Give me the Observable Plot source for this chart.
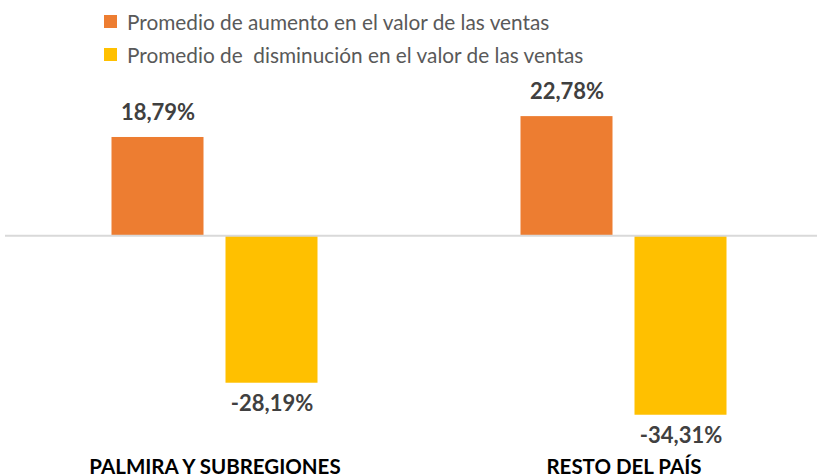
<!DOCTYPE html>
<html><head><meta charset="utf-8">
<script src="https://cdn.jsdelivr.net/npm/d3@7"></script>
<script src="https://cdn.jsdelivr.net/npm/@observablehq/plot@0.6"></script>
<style>
body{margin:0;background:#fff;font-family:Lato,sans-serif;}
#legend{position:relative;height:70px;width:817px;}
.item{position:absolute;left:104px;height:22px;display:flex;align-items:center;font-size:20.8px;color:#595959;white-space:pre;}
.sw{width:13px;height:13px;margin-right:10px;flex:none;}
</style></head><body>
<div id="legend"></div>
<div id="chart"></div>
<script>
const categories = ["PALMIRA Y SUBREGIONES", "RESTO DEL PAÍS"];
const seriesNames = ["Promedio de aumento en el valor de las ventas", "Promedio de  disminución en el valor de las ventas"];
const aumento = [18.79, 22.78];
const disminucion = [-28.19, -34.31];
const colors = ["#ED7D31", "#FFC000"];

const fmt = v => v.toFixed(2).replace(".", ",") + "%";
const dataA = categories.map((c, i) => ({cat: c, value: aumento[i]}));
const dataD = categories.map((c, i) => ({cat: c, value: disminucion[i]}));

// legend
const legend = document.getElementById("legend");
seriesNames.forEach((name, i) => {
  const item = document.createElement("div");
  item.className = "item";
  item.style.top = (10 + i * 33) + "px";
  const sw = document.createElement("span");
  sw.className = "sw";
  sw.style.background = colors[i];
  const tx = document.createElement("span");
  tx.textContent = name;
  item.appendChild(sw);
  item.appendChild(tx);
  legend.appendChild(item);
});

const labelFont = {fontSize: 22, fontWeight: "bold", fill: "#404040"};

const chart = Plot.plot({
  width: 817,
  height: 406,
  marginLeft: 5,
  marginRight: 0,
  marginTop: 34.5,
  marginBottom: 31.5,
  style: {fontFamily: "Lato, sans-serif", background: "#fff", overflow: "visible"},
  x: {type: "band", domain: categories, paddingInner: 0.3902, paddingOuter: 0.1854, align: 0.553},
  y: {domain: [-40, 25], axis: null},
  marks: [
    Plot.barY(dataA, {x: "cat", y: "value", fill: colors[0], insetLeft: 21.5, insetRight: 135.5}),
    Plot.barY(dataD, {x: "cat", y: "value", fill: colors[1], insetLeft: 135.5, insetRight: 21.5}),
    Plot.ruleY([0], {stroke: "#D9D9D9", strokeWidth: 2}),
    Plot.text(dataA, {x: "cat", y: "value", text: d => fmt(d.value), dx: -57, dy: -25, ...labelFont}),
    Plot.text(dataD, {x: "cat", y: "value", text: d => fmt(d.value), dx: 57, dy: 21, ...labelFont}),
    Plot.axisX({tickSize: 0, tickPadding: 14, fontSize: 20.5, fontWeight: "bold", fill: "#000", label: null})
  ]
});
document.getElementById("chart").appendChild(chart);
</script>
</body></html>
